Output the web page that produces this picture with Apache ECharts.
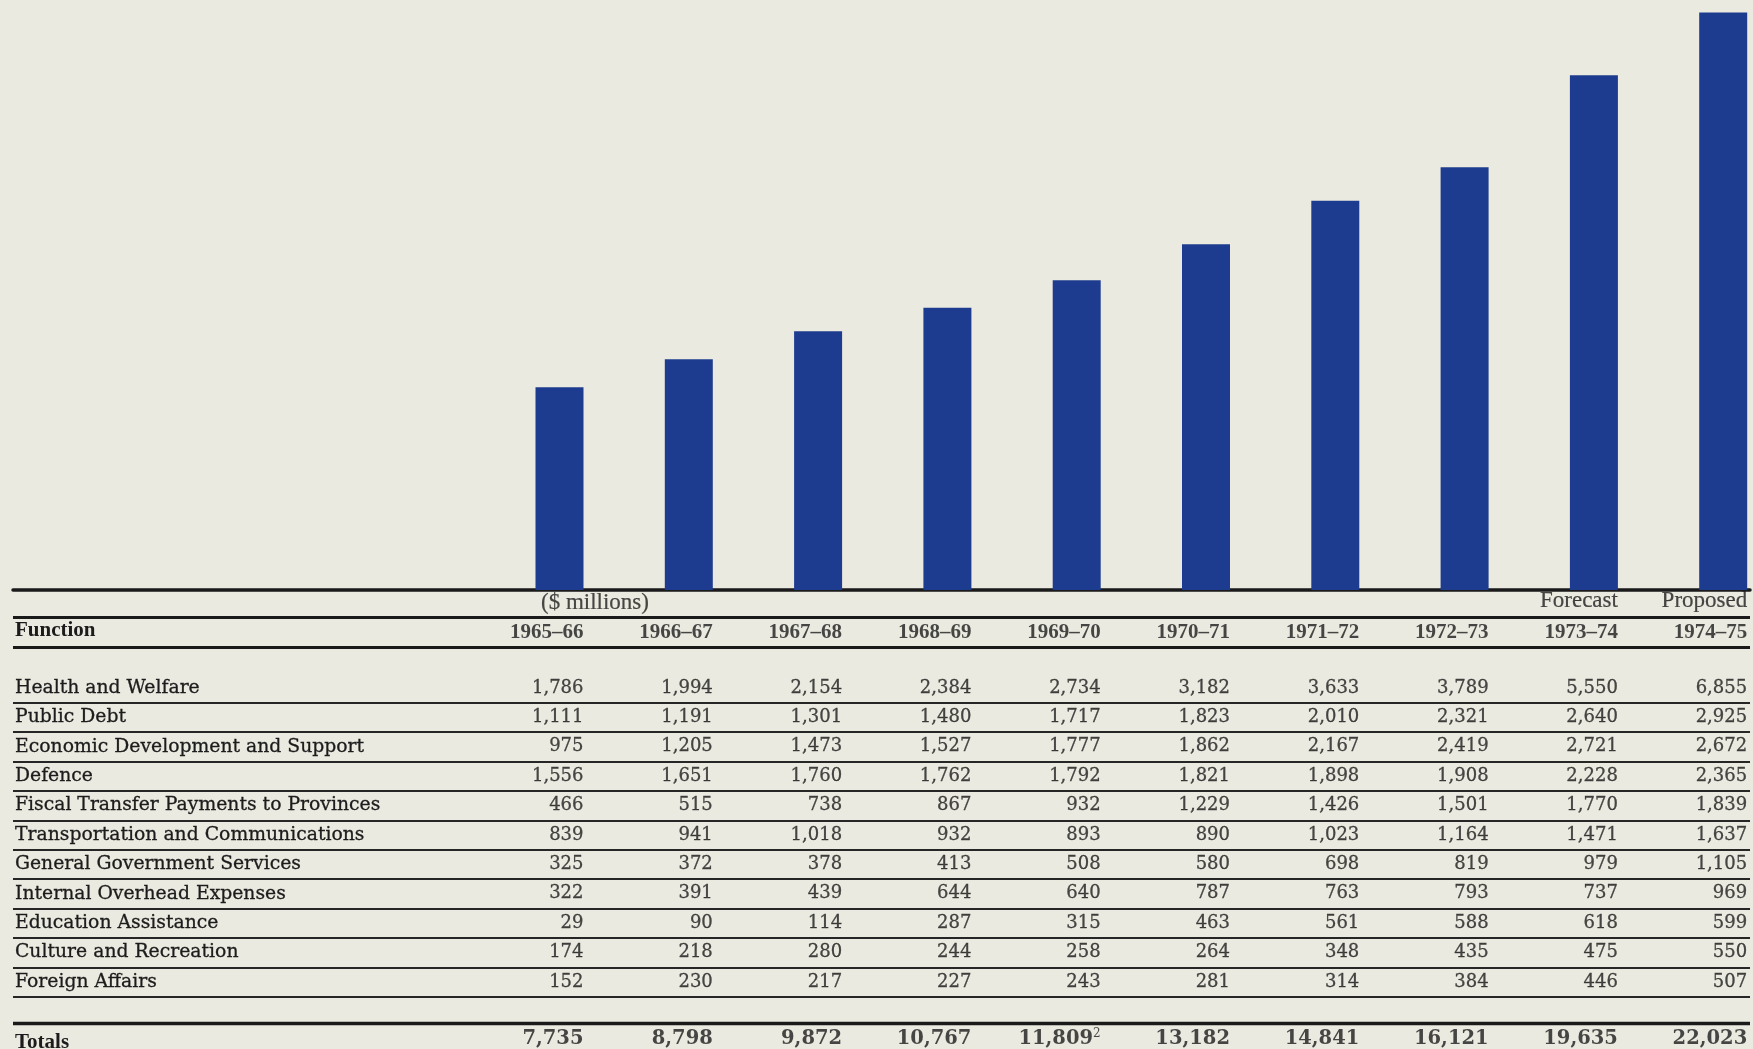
<!DOCTYPE html>
<html>
<head>
<meta charset="utf-8">
<script src="https://cdn.jsdelivr.net/npm/echarts@6/dist/echarts.min.js"></script>
<style>
html,body{margin:0;padding:0;background:#ebeae0;}
#chart{width:1753px;height:1049px;}
</style>
</head>
<body>
<div id="chart"></div>
<script>
// ---------- data ----------
const years = ['1965–66','1966–67','1967–68','1968–69','1969–70','1970–71','1971–72','1972–73','1973–74','1974–75'];
const columnNotes = ['($ millions)','','','','','','','','Forecast','Proposed'];
const functions = [
  'Health and Welfare',
  'Public Debt',
  'Economic Development and Support',
  'Defence',
  'Fiscal Transfer Payments to Provinces',
  'Transportation and Communications',
  'General Government Services',
  'Internal Overhead Expenses',
  'Education Assistance',
  'Culture and Recreation',
  'Foreign Affairs'
];
const healthWelfare   = [1786,1994,2154,2384,2734,3182,3633,3789,5550,6855];
const publicDebt      = [1111,1191,1301,1480,1717,1823,2010,2321,2640,2925];
const economicDev     = [975,1205,1473,1527,1777,1862,2167,2419,2721,2672];
const defence         = [1556,1651,1760,1762,1792,1821,1898,1908,2228,2365];
const fiscalTransfer  = [466,515,738,867,932,1229,1426,1501,1770,1839];
const transportation  = [839,941,1018,932,893,890,1023,1164,1471,1637];
const generalGov      = [325,372,378,413,508,580,698,819,979,1105];
const internalOverhead= [322,391,439,644,640,787,763,793,737,969];
const education       = [29,90,114,287,315,463,561,588,618,599];
const culture         = [174,218,280,244,258,264,348,435,475,550];
const foreignAffairs  = [152,230,217,227,243,281,314,384,446,507];
const totals          = [7735,8798,9872,10767,11809,13182,14841,16121,19635,22023];
const totalsFootnotes = ['','','','','2','','','','',''];

const rowValues = [healthWelfare, publicDebt, economicDev, defence, fiscalTransfer,
  transportation, generalGov, internalOverhead, education, culture, foreignAffairs];

// ---------- layout ----------
const COL0 = 559.5, PITCH = 129.3;        // centre of first column, column pitch (px)
const GL = 13, GR = 1750;                  // rule extent
const xMin = (GL - COL0) / PITCH, xMax = (GR - COL0) / PITCH;
const ROW_H = 29.4, TABLE_TOP = 585.1, NROWS = 16;
const BASE = 590;
const INK = '#1c1c1c';
const BAR = '#1e3c8f';

// table rows: 0 notes, 1 header, 2 blank, 3..13 functions, 14 blank, 15 totals
const rowNames = ['', 'Function', ''].concat(functions, ['', 'Totals']);
const FIRST_DATA_ROW = 3, HEADER_ROW = 1, NOTE_ROW = 0, TOTAL_ROW = 15;

const fmt = v => v.toLocaleString('en-US');

// cells
const dataCells = [];
rowValues.forEach((vals, r) => vals.forEach((v, c) => {
  dataCells.push({ value: [c, FIRST_DATA_ROW + r], txt: fmt(v) });
}));
const headerCells = years.map((y, c) => ({ value: [c, HEADER_ROW], txt: y }));
const noteCellsRight = [], noteCellsLeft = [];
columnNotes.forEach((n, c) => {
  if (!n) return;
  if (c === 0) noteCellsLeft.push({ value: [c, NOTE_ROW], txt: n });
  else noteCellsRight.push({ value: [c, NOTE_ROW], txt: n });
});
const totalCells = totals.map((v, c) => ({
  value: [c, TOTAL_ROW],
  txt: '{n|' + fmt(v) + '}' + (totalsFootnotes[c] ? '{s|' + totalsFootnotes[c] + '}' : '')
}));

// rule colours for value-axis split lines at row boundaries 0..16
const CLEAR = 'rgba(0,0,0,0)';
const thin = [], thickHead = [], thickTotal = [];
for (let b = 0; b <= NROWS; b++) {
  thin.push(b >= 4 && b <= 14 ? '#262626' : CLEAR);
  thickHead.push(b === 1 || b === 2 ? '#1a1a1a' : CLEAR);
  thickTotal.push(b === 15 ? '#1a1a1a' : CLEAR);
}

const cellLabel = (extra) => Object.assign({
  show: true, position: 'inside', align: 'right', verticalAlign: 'middle',
  offset: [24, 0], color: INK, fontFamily: 'DejaVu Serif', fontSize: 18,
  textBorderColor: INK, textBorderWidth: 0.3,
  formatter: p => p.data.txt
}, extra || {});

const textSeries = (data, label) => ({
  type: 'scatter', xAxisIndex: 1, yAxisIndex: 1, symbolSize: 0, silent: true,
  itemStyle: { color: CLEAR }, data, label
});

const hiddenValueX = (gridIndex, showLine) => ({
  type: 'value', gridIndex, min: xMin, max: xMax,
  axisLine: { show: !!showLine, onZero: true, lineStyle: { color: '#1a1a1a', width: 3.5 } },
  axisTick: { show: false }, axisLabel: { show: false }, splitLine: { show: false }
});

const ruleAxis = (gridIndex, colors, width) => ({
  type: 'value', gridIndex, min: 0, max: NROWS, interval: 1, inverse: true,
  axisLine: { show: false }, axisTick: { show: false }, axisLabel: { show: false },
  splitLine: { show: true, showMinLine: true, showMaxLine: true, lineStyle: { color: colors, width } }
});

const tableGrid = (shift) => ({
  left: GL, width: GR - GL, top: TABLE_TOP + shift, height: ROW_H * NROWS,
  outerBoundsMode: 'none', containLabel: false
});

const chart = echarts.init(document.getElementById('chart'));
chart.setOption({
  backgroundColor: '#ebeae0',
  animation: false,
  grid: [
    { left: GL, width: GR - GL, top: 0, height: BASE, outerBoundsMode: 'none', containLabel: false },
    tableGrid(0),
    tableGrid(3),    // header rules
    tableGrid(-3)    // totals rule
  ],
  xAxis: [hiddenValueX(0, true), hiddenValueX(1, false), hiddenValueX(2, false), hiddenValueX(3, false)],
  yAxis: [
    { type: 'value', gridIndex: 0, min: 0, max: 22500, show: false },
    {
      type: 'category', gridIndex: 1, inverse: true, data: rowNames,
      axisLine: { show: false }, axisTick: { show: false }, splitLine: { show: false },
      axisLabel: {
        show: true, inside: true, margin: 2, interval: 0,
        formatter: (v) => v ? ((v === 'Function' || v === 'Totals') ? '{b|' + v + '}' : '{n|' + v + '}') : '',
        rich: {
          n: { fontFamily: 'DejaVu Serif', fontSize: 18.8, color: INK, textBorderColor: INK, textBorderWidth: 0.3 },
          b: { fontFamily: 'Liberation Serif', fontSize: 21, fontWeight: 'bold', color: INK, padding: [3, 0, 0, 0] }
        }
      }
    },
    ruleAxis(1, thin, 2),
    ruleAxis(2, thickHead, 3.2),
    ruleAxis(3, thickTotal, 3.4)
  ],
  series: [
    {
      type: 'bar', xAxisIndex: 0, yAxisIndex: 0, barWidth: 48, silent: true,
      itemStyle: { color: BAR },
      data: totals.map((v, i) => [i, v])
    },
    textSeries(dataCells, cellLabel()),
    textSeries(headerCells, cellLabel({ fontFamily: 'Liberation Serif', fontWeight: 'bold', fontSize: 21, offset: [24, 3], textBorderWidth: 0 })),
    textSeries(noteCellsRight, cellLabel({ fontFamily: 'Liberation Serif', fontSize: 23, offset: [24, 1], textBorderWidth: 0.2 })),
    textSeries(noteCellsLeft, cellLabel({ fontFamily: 'Liberation Serif', fontSize: 23, align: 'left', offset: [-18.5, 3], textBorderWidth: 0.2 })),
    textSeries(totalCells, cellLabel({
      offset: [24, -2], textBorderWidth: 0,
      rich: {
        n: { fontFamily: 'DejaVu Serif', fontSize: 19.5, fontWeight: 'bold', color: INK, lineHeight: 22 },
        s: { fontFamily: 'DejaVu Serif', fontSize: 12, color: INK, verticalAlign: 'top', lineHeight: 12 }
      }
    }))
  ]
});
</script>
</body>
</html>
